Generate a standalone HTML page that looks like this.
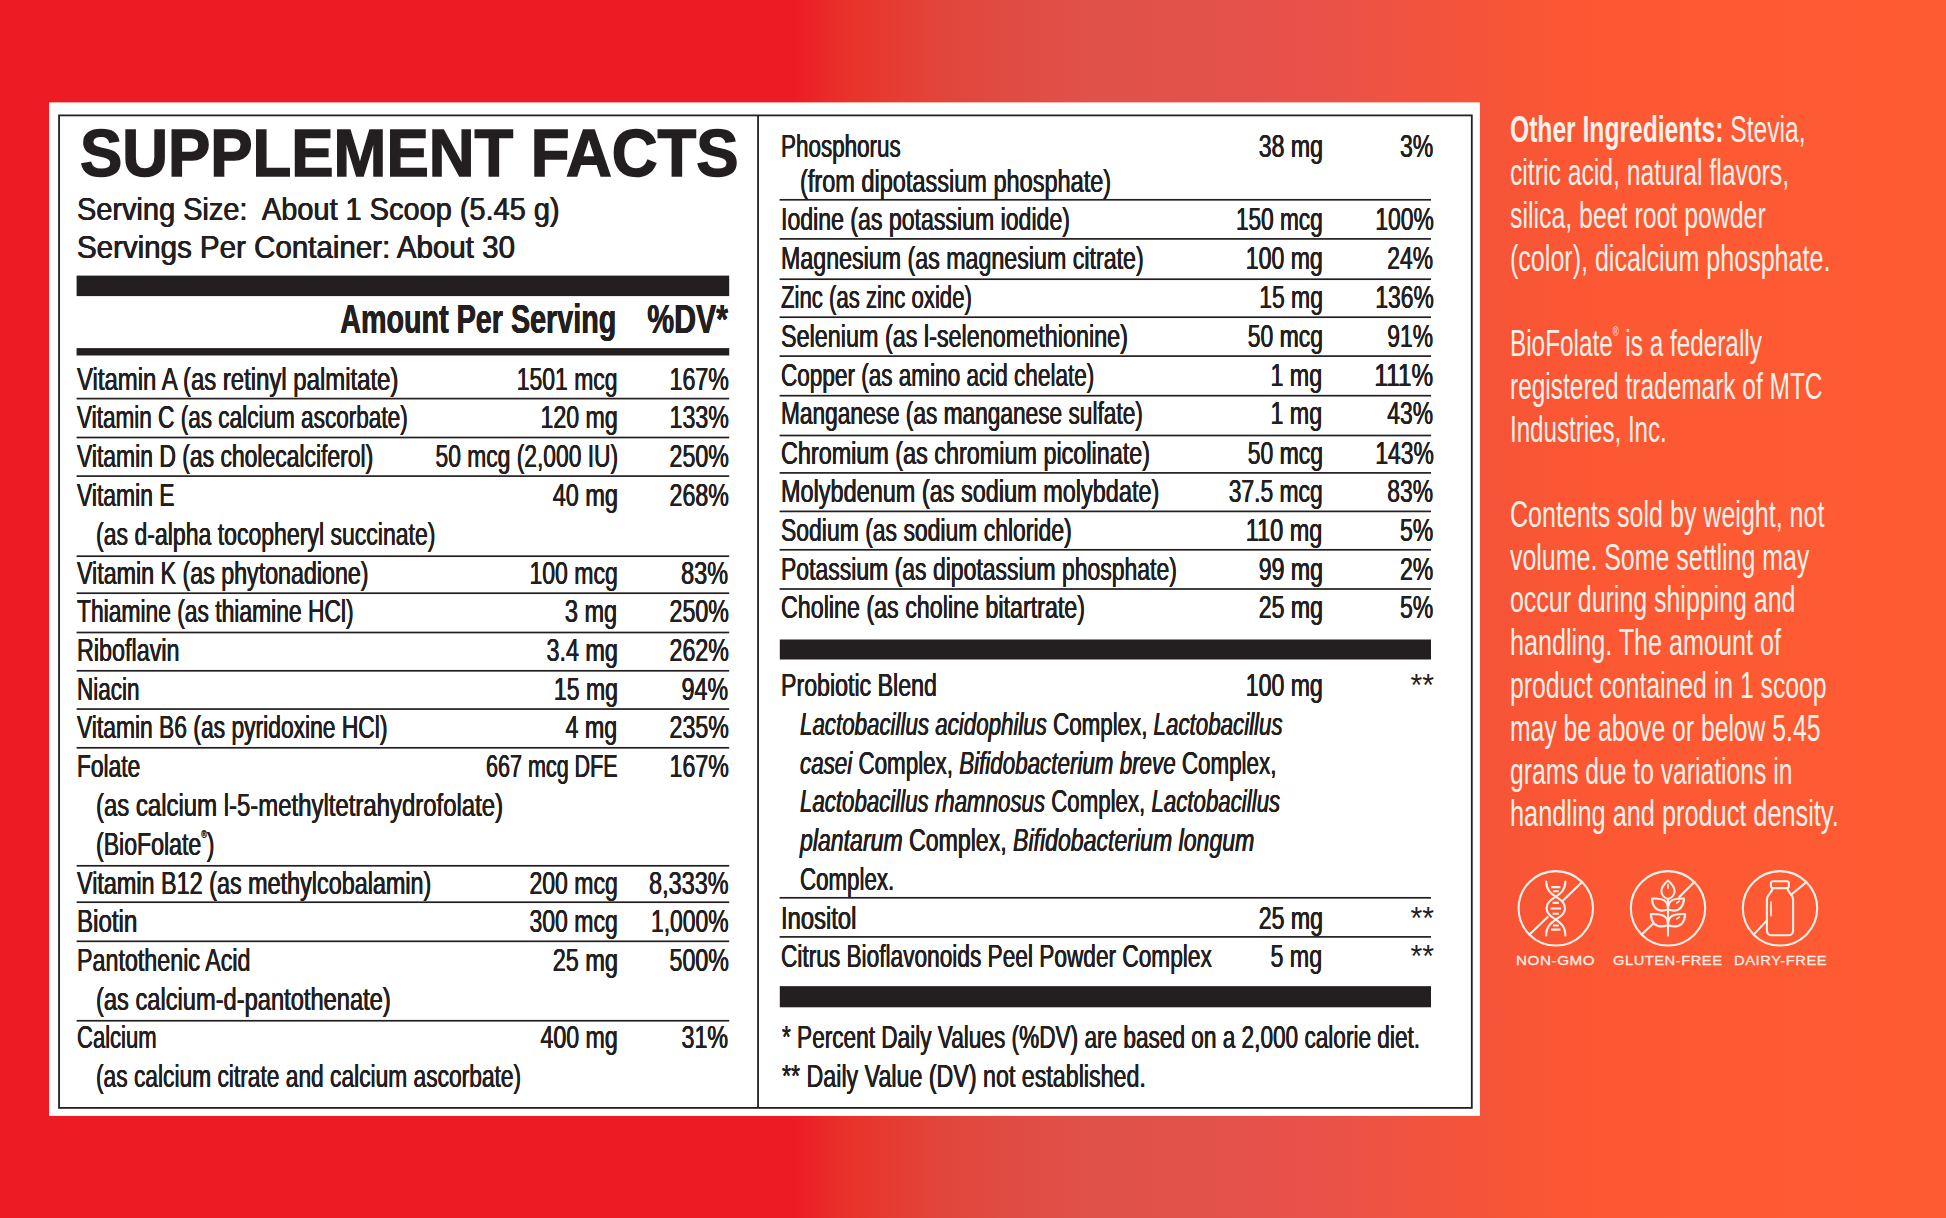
<!DOCTYPE html>
<html lang="en"><head><meta charset="utf-8"><title>Supplement Facts</title>
<style>
html,body{margin:0;padding:0}
body{width:1946px;height:1218px;position:relative;overflow:hidden;
 font-family:"Liberation Sans",sans-serif;color:#231f20;
 background:linear-gradient(90deg,#ed1c24 0,#ed1c24 795px,#e9332a 850px,#e2453a 940px,#e04b42 1000px,#e0514a 1090px,#e2514a 1200px,#e9524a 1320px,#f3533c 1440px,#f85536 1520px,#fc5833 1600px,#ff5c33 1946px);}
.t{position:absolute;white-space:nowrap;line-height:1em;display:block;text-shadow:.4px 0 0 currentColor,-.4px 0 0 currentColor}
.l{transform-origin:0 0}
.r{transform-origin:100% 0}
.b{font-weight:bold}
.w{color:#fff0e8;text-shadow:none}
.title{text-shadow:none;-webkit-text-stroke:1.5px #231f20}
.ic{letter-spacing:.5px;-webkit-text-stroke:.3px #fff0e8}
sup{font-size:.33em;vertical-align:baseline;position:relative;top:-1.62em;line-height:0}
.ast{text-shadow:none}
svg{position:absolute;overflow:visible}
</style></head><body>
<svg width="1946" height="1218" viewBox="0 0 1946 1218" style="left:0;top:0">
<rect x="49.1" y="102.4" width="1430.8" height="1013.5" fill="#fff"/>
<rect x="59.05" y="115.4" width="1412.75" height="992.5" fill="none" stroke="#231f20" stroke-width="1.8"/>
<rect x="757.15" y="115.25" width="1.8" height="992.45" fill="#231f20"/>
<rect x="76.6" y="275.60" width="652.6" height="20.50" fill="#231f20"/>
<rect x="76.6" y="348.10" width="652.6" height="7.40" fill="#231f20"/>
<rect x="779.8" y="639.50" width="651.2" height="20.00" fill="#231f20"/>
<rect x="779.8" y="986.15" width="651.2" height="21.15" fill="#231f20"/>
<rect x="76.6" y="397.75" width="652.6" height="1.70" fill="#231f20"/>
<rect x="76.6" y="436.65" width="652.6" height="1.70" fill="#231f20"/>
<rect x="76.6" y="475.25" width="652.6" height="1.70" fill="#231f20"/>
<rect x="76.6" y="555.35" width="652.6" height="1.70" fill="#231f20"/>
<rect x="76.6" y="592.35" width="652.6" height="1.70" fill="#231f20"/>
<rect x="76.6" y="631.65" width="652.6" height="1.70" fill="#231f20"/>
<rect x="76.6" y="669.95" width="652.6" height="1.70" fill="#231f20"/>
<rect x="76.6" y="708.20" width="652.6" height="1.70" fill="#231f20"/>
<rect x="76.6" y="746.95" width="652.6" height="1.70" fill="#231f20"/>
<rect x="76.6" y="864.95" width="652.6" height="1.70" fill="#231f20"/>
<rect x="76.6" y="901.35" width="652.6" height="1.70" fill="#231f20"/>
<rect x="76.6" y="940.45" width="652.6" height="1.70" fill="#231f20"/>
<rect x="76.6" y="1019.90" width="652.6" height="1.70" fill="#231f20"/>
<rect x="779.6" y="198.95" width="651.4" height="1.70" fill="#231f20"/>
<rect x="779.6" y="238.05" width="651.4" height="1.70" fill="#231f20"/>
<rect x="779.6" y="278.35" width="651.4" height="1.70" fill="#231f20"/>
<rect x="779.6" y="316.35" width="651.4" height="1.70" fill="#231f20"/>
<rect x="779.6" y="355.25" width="651.4" height="1.70" fill="#231f20"/>
<rect x="779.6" y="394.85" width="651.4" height="1.70" fill="#231f20"/>
<rect x="779.6" y="434.65" width="651.4" height="1.70" fill="#231f20"/>
<rect x="779.6" y="472.05" width="651.4" height="1.70" fill="#231f20"/>
<rect x="779.6" y="510.55" width="651.4" height="1.70" fill="#231f20"/>
<rect x="779.6" y="548.95" width="651.4" height="1.70" fill="#231f20"/>
<rect x="779.6" y="588.15" width="651.4" height="1.70" fill="#231f20"/>
<rect x="779.6" y="896.95" width="651.4" height="1.70" fill="#231f20"/>
<rect x="779.6" y="936.05" width="651.4" height="1.70" fill="#231f20"/>
</svg>
<span class="t l " style="left:76.6px;top:363.00px;font-size:32.0px;transform:scaleX(0.7477)">Vitamin A (as retinyl palmitate)</span>
<span class="t r " style="right:1328.4px;top:363.00px;font-size:32.0px;transform:scaleX(0.7170)">1501 mcg</span>
<span class="t r " style="right:1217.6px;top:363.00px;font-size:32.0px;transform:scaleX(0.7244)">167%</span>
<span class="t l " style="left:76.6px;top:401.00px;font-size:32.0px;transform:scaleX(0.7053)">Vitamin C (as calcium ascorbate)</span>
<span class="t r " style="right:1328.4px;top:401.00px;font-size:32.0px;transform:scaleX(0.7234)">120 mg</span>
<span class="t r " style="right:1217.6px;top:401.00px;font-size:32.0px;transform:scaleX(0.7244)">133%</span>
<span class="t l " style="left:76.6px;top:440.00px;font-size:32.0px;transform:scaleX(0.7159)">Vitamin D (as cholecalciferol)</span>
<span class="t r " style="right:1328.4px;top:440.00px;font-size:32.0px;transform:scaleX(0.7129)">50 mcg (2,000 IU)</span>
<span class="t r " style="right:1217.6px;top:440.00px;font-size:32.0px;transform:scaleX(0.7244)">250%</span>
<span class="t l " style="left:76.6px;top:479.00px;font-size:32.0px;transform:scaleX(0.7154)">Vitamin E</span>
<span class="t r " style="right:1328.4px;top:479.00px;font-size:32.0px;transform:scaleX(0.7326)">40 mg</span>
<span class="t r " style="right:1217.6px;top:479.00px;font-size:32.0px;transform:scaleX(0.7244)">268%</span>
<span class="t l " style="left:76.6px;top:557.00px;font-size:32.0px;transform:scaleX(0.7262)">Vitamin K (as phytonadione)</span>
<span class="t r " style="right:1328.4px;top:557.00px;font-size:32.0px;transform:scaleX(0.7195)">100 mcg</span>
<span class="t r " style="right:1217.6px;top:557.00px;font-size:32.0px;transform:scaleX(0.7328)">83%</span>
<span class="t l " style="left:76.6px;top:595.00px;font-size:32.0px;transform:scaleX(0.7134)">Thiamine (as thiamine HCl)</span>
<span class="t r " style="right:1328.4px;top:595.00px;font-size:32.0px;transform:scaleX(0.7352)">3 mg</span>
<span class="t r " style="right:1217.6px;top:595.00px;font-size:32.0px;transform:scaleX(0.7244)">250%</span>
<span class="t l " style="left:76.6px;top:634.00px;font-size:32.0px;transform:scaleX(0.7298)">Riboflavin</span>
<span class="t r " style="right:1328.4px;top:634.00px;font-size:32.0px;transform:scaleX(0.7296)">3.4 mg</span>
<span class="t r " style="right:1217.6px;top:634.00px;font-size:32.0px;transform:scaleX(0.7244)">262%</span>
<span class="t l " style="left:76.6px;top:673.00px;font-size:32.0px;transform:scaleX(0.7034)">Niacin</span>
<span class="t r " style="right:1328.4px;top:673.00px;font-size:32.0px;transform:scaleX(0.7202)">15 mg</span>
<span class="t r " style="right:1217.6px;top:673.00px;font-size:32.0px;transform:scaleX(0.7250)">94%</span>
<span class="t l " style="left:76.6px;top:711.00px;font-size:32.0px;transform:scaleX(0.7136)">Vitamin B6 (as pyridoxine HCl)</span>
<span class="t r " style="right:1328.4px;top:711.00px;font-size:32.0px;transform:scaleX(0.7254)">4 mg</span>
<span class="t r " style="right:1217.6px;top:711.00px;font-size:32.0px;transform:scaleX(0.7244)">235%</span>
<span class="t l " style="left:76.6px;top:750.00px;font-size:32.0px;transform:scaleX(0.7112)">Folate</span>
<span class="t r " style="right:1328.4px;top:750.00px;font-size:32.0px;transform:scaleX(0.6724)">667 mcg DFE</span>
<span class="t r " style="right:1217.6px;top:750.00px;font-size:32.0px;transform:scaleX(0.7244)">167%</span>
<span class="t l " style="left:76.6px;top:867.00px;font-size:32.0px;transform:scaleX(0.7307)">Vitamin B12 (as methylcobalamin)</span>
<span class="t r " style="right:1328.4px;top:867.00px;font-size:32.0px;transform:scaleX(0.7195)">200 mcg</span>
<span class="t r " style="right:1217.6px;top:867.00px;font-size:32.0px;transform:scaleX(0.7321)">8,333%</span>
<span class="t l " style="left:76.6px;top:905.00px;font-size:32.0px;transform:scaleX(0.7538)">Biotin</span>
<span class="t r " style="right:1328.4px;top:905.00px;font-size:32.0px;transform:scaleX(0.7195)">300 mcg</span>
<span class="t r " style="right:1217.6px;top:905.00px;font-size:32.0px;transform:scaleX(0.7147)">1,000%</span>
<span class="t l " style="left:76.6px;top:944.00px;font-size:32.0px;transform:scaleX(0.7277)">Pantothenic Acid</span>
<span class="t r " style="right:1328.4px;top:944.00px;font-size:32.0px;transform:scaleX(0.7326)">25 mg</span>
<span class="t r " style="right:1217.6px;top:944.00px;font-size:32.0px;transform:scaleX(0.7244)">500%</span>
<span class="t l " style="left:76.6px;top:1021.00px;font-size:32.0px;transform:scaleX(0.6888)">Calcium</span>
<span class="t r " style="right:1328.4px;top:1021.00px;font-size:32.0px;transform:scaleX(0.7234)">400 mg</span>
<span class="t r " style="right:1217.6px;top:1021.00px;font-size:32.0px;transform:scaleX(0.7266)">31%</span>
<span class="t l " style="left:95.6px;top:518.00px;font-size:32.0px;transform:scaleX(0.7202)">(as d-alpha tocopheryl succinate)</span>
<span class="t l " style="left:95.6px;top:789.00px;font-size:32.0px;transform:scaleX(0.7480)">(as calcium l-5-methyltetrahydrofolate)</span>
<span class="t l " style="left:95.6px;top:828.00px;font-size:32.0px;transform:scaleX(0.7213)">(BioFolate<sup>&reg;</sup>)</span>
<span class="t l " style="left:95.6px;top:983.00px;font-size:32.0px;transform:scaleX(0.7397)">(as calcium-d-pantothenate)</span>
<span class="t l " style="left:95.6px;top:1060.00px;font-size:32.0px;transform:scaleX(0.7114)">(as calcium citrate and calcium ascorbate)</span>
<span class="t l " style="left:781.4px;top:130.00px;font-size:32.0px;transform:scaleX(0.7012)">Phosphorus</span>
<span class="t r " style="right:623.4px;top:130.00px;font-size:32.0px;transform:scaleX(0.7213)">38 mg</span>
<span class="t r " style="right:512.6px;top:130.00px;font-size:32.0px;transform:scaleX(0.7196)">3%</span>
<span class="t l " style="left:781.4px;top:203.00px;font-size:32.0px;transform:scaleX(0.7220)">Iodine (as potassium iodide)</span>
<span class="t r " style="right:623.4px;top:203.00px;font-size:32.0px;transform:scaleX(0.7073)">150 mcg</span>
<span class="t r " style="right:512.6px;top:203.00px;font-size:32.0px;transform:scaleX(0.7146)">100%</span>
<span class="t l " style="left:781.4px;top:242.00px;font-size:32.0px;transform:scaleX(0.7258)">Magnesium (as magnesium citrate)</span>
<span class="t r " style="right:623.4px;top:242.00px;font-size:32.0px;transform:scaleX(0.7206)">100 mg</span>
<span class="t r " style="right:512.6px;top:242.00px;font-size:32.0px;transform:scaleX(0.7141)">24%</span>
<span class="t l " style="left:781.4px;top:281.00px;font-size:32.0px;transform:scaleX(0.6924)">Zinc (as zinc oxide)</span>
<span class="t r " style="right:623.4px;top:281.00px;font-size:32.0px;transform:scaleX(0.7169)">15 mg</span>
<span class="t r " style="right:512.6px;top:281.00px;font-size:32.0px;transform:scaleX(0.7146)">136%</span>
<span class="t l " style="left:781.4px;top:320.00px;font-size:32.0px;transform:scaleX(0.7305)">Selenium (as l-selenomethionine)</span>
<span class="t r " style="right:623.4px;top:320.00px;font-size:32.0px;transform:scaleX(0.7162)">50 mcg</span>
<span class="t r " style="right:512.6px;top:320.00px;font-size:32.0px;transform:scaleX(0.7141)">91%</span>
<span class="t l " style="left:781.4px;top:359.00px;font-size:32.0px;transform:scaleX(0.7045)">Copper (as amino acid chelate)</span>
<span class="t r " style="right:623.4px;top:359.00px;font-size:32.0px;transform:scaleX(0.7268)">1 mg</span>
<span class="t r " style="right:512.6px;top:359.00px;font-size:32.0px;transform:scaleX(0.7610)">111%</span>
<span class="t l " style="left:781.4px;top:397.00px;font-size:32.0px;transform:scaleX(0.7088)">Manganese (as manganese sulfate)</span>
<span class="t r " style="right:623.4px;top:397.00px;font-size:32.0px;transform:scaleX(0.7268)">1 mg</span>
<span class="t r " style="right:512.6px;top:397.00px;font-size:32.0px;transform:scaleX(0.7141)">43%</span>
<span class="t l " style="left:781.4px;top:437.00px;font-size:32.0px;transform:scaleX(0.7307)">Chromium (as chromium picolinate)</span>
<span class="t r " style="right:623.4px;top:437.00px;font-size:32.0px;transform:scaleX(0.7162)">50 mcg</span>
<span class="t r " style="right:512.6px;top:437.00px;font-size:32.0px;transform:scaleX(0.7146)">143%</span>
<span class="t l " style="left:781.4px;top:475.00px;font-size:32.0px;transform:scaleX(0.7335)">Molybdenum (as sodium molybdate)</span>
<span class="t r " style="right:623.4px;top:475.00px;font-size:32.0px;transform:scaleX(0.7136)">37.5 mcg</span>
<span class="t r " style="right:512.6px;top:475.00px;font-size:32.0px;transform:scaleX(0.7141)">83%</span>
<span class="t l " style="left:781.4px;top:514.00px;font-size:32.0px;transform:scaleX(0.7170)">Sodium (as sodium chloride)</span>
<span class="t r " style="right:623.4px;top:514.00px;font-size:32.0px;transform:scaleX(0.7337)">110 mg</span>
<span class="t r " style="right:512.6px;top:514.00px;font-size:32.0px;transform:scaleX(0.7196)">5%</span>
<span class="t l " style="left:781.4px;top:553.00px;font-size:32.0px;transform:scaleX(0.7180)">Potassium (as dipotassium phosphate)</span>
<span class="t r " style="right:623.4px;top:553.00px;font-size:32.0px;transform:scaleX(0.7213)">99 mg</span>
<span class="t r " style="right:512.6px;top:553.00px;font-size:32.0px;transform:scaleX(0.7196)">2%</span>
<span class="t l " style="left:781.4px;top:591.00px;font-size:32.0px;transform:scaleX(0.7273)">Choline (as choline bitartrate)</span>
<span class="t r " style="right:623.4px;top:591.00px;font-size:32.0px;transform:scaleX(0.7213)">25 mg</span>
<span class="t r " style="right:512.6px;top:591.00px;font-size:32.0px;transform:scaleX(0.7196)">5%</span>
<span class="t l " style="left:781.4px;top:669.00px;font-size:32.0px;transform:scaleX(0.7242)">Probiotic Blend</span>
<span class="t r " style="right:623.4px;top:669.00px;font-size:32.0px;transform:scaleX(0.7206)">100 mg</span>
<span class="t r ast" style="right:512.6px;top:669.00px;font-size:32.0px;transform:scaleX(0.9440)">**</span>
<span class="t l " style="left:781.4px;top:902.00px;font-size:32.0px;transform:scaleX(0.7436)">Inositol</span>
<span class="t r " style="right:623.4px;top:902.00px;font-size:32.0px;transform:scaleX(0.7213)">25 mg</span>
<span class="t r ast" style="right:512.6px;top:902.00px;font-size:32.0px;transform:scaleX(0.9440)">**</span>
<span class="t l " style="left:781.4px;top:940.00px;font-size:32.0px;transform:scaleX(0.7082)">Citrus Bioflavonoids Peel Powder Complex</span>
<span class="t r " style="right:623.4px;top:940.00px;font-size:32.0px;transform:scaleX(0.7268)">5 mg</span>
<span class="t r ast" style="right:512.6px;top:940.00px;font-size:32.0px;transform:scaleX(0.9440)">**</span>
<span class="t l " style="left:800.4px;top:165.00px;font-size:32.0px;transform:scaleX(0.7350)">(from dipotassium phosphate)</span>
<span class="t l " style="left:800.4px;top:708.00px;font-size:32.0px;transform:scaleX(0.6975)"><i>Lactobacillus acidophilus</i> Complex, <i>Lactobacillus</i></span>
<span class="t l " style="left:800.4px;top:747.00px;font-size:32.0px;transform:scaleX(0.6994)"><i>casei</i> Complex, <i>Bifidobacterium breve</i> Complex,</span>
<span class="t l " style="left:800.4px;top:785.00px;font-size:32.0px;transform:scaleX(0.6958)"><i>Lactobacillus rhamnosus</i> Complex, <i>Lactobacillus</i></span>
<span class="t l " style="left:800.4px;top:824.00px;font-size:32.0px;transform:scaleX(0.7216)"><i>plantarum</i> Complex, <i>Bifidobacterium longum</i></span>
<span class="t l " style="left:800.4px;top:863.00px;font-size:32.0px;transform:scaleX(0.6970)">Complex.</span>
<span class="t l " style="left:782.3px;top:1021.00px;font-size:32.0px;transform:scaleX(0.7066)">* Percent Daily Values (%DV) are based on a 2,000 calorie diet.</span>
<span class="t l " style="left:782.3px;top:1060.00px;font-size:32.0px;transform:scaleX(0.7263)">** Daily Value (DV) not established.</span>
<span class="t l b title" style="left:79.8px;top:119.95px;font-size:66.1px;transform:scaleX(0.9591)">SUPPLEMENT FACTS</span>
<span class="t l " style="left:77.4px;top:193.85px;font-size:31.3px;transform:scaleX(0.9245)">Serving Size:&nbsp; About 1 Scoop (5.45 g)</span>
<span class="t l " style="left:77.4px;top:231.85px;font-size:31.3px;transform:scaleX(0.9428)">Servings Per Container: About 30</span>
<span class="t r b" style="right:1329.6px;top:298.75px;font-size:40.5px;transform:scaleX(0.7093)">Amount Per Serving</span>
<span class="t r b" style="right:1218.2px;top:298.75px;font-size:40.5px;transform:scaleX(0.7481)">%DV*</span>
<span class="t l w" style="left:1509.8px;top:111.50px;font-size:36.0px;transform:scaleX(0.6840)"><b>Other Ingredients:</b> Stevia,</span>
<span class="t l w" style="left:1509.8px;top:154.50px;font-size:36.0px;transform:scaleX(0.6872)">citric acid, natural flavors,</span>
<span class="t l w" style="left:1509.8px;top:197.50px;font-size:36.0px;transform:scaleX(0.6908)">silica, beet root powder</span>
<span class="t l w" style="left:1509.8px;top:240.50px;font-size:36.0px;transform:scaleX(0.6961)">(color), dicalcium phosphate.</span>
<span class="t l w" style="left:1509.8px;top:325.50px;font-size:36.0px;transform:scaleX(0.6753)">BioFolate<sup>&reg;</sup> is a federally</span>
<span class="t l w" style="left:1509.8px;top:368.50px;font-size:36.0px;transform:scaleX(0.6791)">registered trademark of MTC</span>
<span class="t l w" style="left:1509.8px;top:411.50px;font-size:36.0px;transform:scaleX(0.6697)">Industries, Inc.</span>
<span class="t l w" style="left:1509.8px;top:496.50px;font-size:36.0px;transform:scaleX(0.6951)">Contents sold by weight, not</span>
<span class="t l w" style="left:1509.8px;top:539.50px;font-size:36.0px;transform:scaleX(0.6926)">volume. Some settling may</span>
<span class="t l w" style="left:1509.8px;top:581.50px;font-size:36.0px;transform:scaleX(0.6922)">occur during shipping and</span>
<span class="t l w" style="left:1509.8px;top:624.50px;font-size:36.0px;transform:scaleX(0.6990)">handling. The amount of</span>
<span class="t l w" style="left:1509.8px;top:667.50px;font-size:36.0px;transform:scaleX(0.6878)">product contained in 1 scoop</span>
<span class="t l w" style="left:1509.8px;top:710.50px;font-size:36.0px;transform:scaleX(0.6863)">may be above or below 5.45</span>
<span class="t l w" style="left:1509.8px;top:753.50px;font-size:36.0px;transform:scaleX(0.6850)">grams due to variations in</span>
<span class="t l w" style="left:1509.8px;top:795.50px;font-size:36.0px;transform:scaleX(0.7028)">handling and product density.</span>
<span class="t l w ic" style="left:1516.0px;top:953.65px;font-size:13.7px;transform:scaleX(1.1127)">NON-GMO</span>
<span class="t l w ic" style="left:1613.4px;top:953.65px;font-size:13.7px;transform:scaleX(1.0725)">GLUTEN-FREE</span>
<span class="t l w ic" style="left:1733.5px;top:953.65px;font-size:13.7px;transform:scaleX(1.0791)">DAIRY-FREE</span>
<svg width="1946" height="1218" viewBox="0 0 1946 1218" style="left:0;top:0" fill="none" stroke="#fff0e8" stroke-width="2.1" stroke-linecap="round" stroke-linejoin="round">
<!-- NON-GMO -->
<circle cx="1555.8" cy="908.35" r="37.2"/>
<path d="M1529.5 934.6L1547.7 917M1562.8 900.8L1582.1 882.1"/>
<path d="M1546.2 881.6C1546.2 890 1551 893.5 1555.8 896.7C1560.6 899.9 1565 902.5 1565 908.15C1565 913.8 1560.6 916.4 1555.8 919.6C1551 922.8 1546.2 926.5 1546.2 935.5"/>
<path d="M1565.4 881.6C1565.4 890 1560.6 893.5 1555.8 896.7C1551 899.9 1546.6 902.5 1546.6 908.15C1546.6 913.8 1551 916.4 1555.8 919.6C1560.6 922.8 1565.4 926.5 1565.4 935.5"/>
<path stroke-linecap="butt" d="M1551 887.1H1560.4M1552.9 891.2H1558.8M1552.6 902.9H1558.9M1550.4 908.5H1561.1M1552.6 913.7H1558.9M1552.9 925.5H1558.8M1551 929.6H1560.4"/>
<!-- GLUTEN-FREE -->
<circle cx="1668" cy="908.35" r="37.2"/>
<path d="M1641.7 934.6L1653 923.7M1679.3 897.1L1694.3 882.1"/>
<path d="M1668 899V935.5"/>
<path d="M1668 880.5C1664 884 1661.4 887.5 1661.4 891C1661.4 895 1664.5 898 1668 899C1671.500 898 1674.6 895 1674.6 891C1674.6 887.500 1672 884 1668 880.500Z"/>
<path stroke-width="1.6" d="M1668 884.6V888.2M1676.700 903L1679.300 901.200M1676.700 918.900L1679.300 917.100"/>
<path d="M1652 898.6C1658 898.400 1662.500 899 1665 901C1667.300 903 1668 905.500 1668 909.500C1662 911.500 1657.500 910.500 1655 907.500C1653 905.200 1652.200 902 1652 898.600Z"/>
<path d="M1684 898.6C1678 898.400 1673.500 899 1671 901C1668.700 903 1668 905.500 1668 909.500C1674 911.500 1678.500 910.500 1681 907.500C1683 905.200 1683.800 902 1684 898.600Z"/>
<path d="M1650.800 914.1C1657 913.800 1662 914.500 1665 916.700C1667.300 918.700 1668 921.500 1668 925.200C1662 927.300 1657 926.400 1654 923.400C1652 921 1651 918 1650.800 914.100Z"/>
<path d="M1685.200 914.1C1679 913.800 1674 914.500 1671 916.700C1668.700 918.700 1668 921.500 1668 925.200C1674 927.300 1679 926.400 1682 923.400C1684 921 1685 918 1685.200 914.100Z"/>
<!-- DAIRY-FREE -->
<circle cx="1780" cy="908.35" r="37.2"/>
<path d="M1753.700 934.600L1766.500 920.900M1791.500 894.500L1806.300 882.100"/>
<rect x="1770.900" y="881.200" width="18" height="6.900" rx="2"/>
<path d="M1772.600 888.100C1772.600 892 1766.900 894.500 1766.900 899.500V930.500C1766.900 933.500 1769 935.200 1771.500 935.200H1788.500C1791 935.200 1793.100 933.500 1793.100 930.500V899.500C1793.100 894.500 1787.400 892 1787.400 888.100"/>
<path stroke-width="1.7" d="M1771 902V915.600"/>
</svg>

</body></html>
